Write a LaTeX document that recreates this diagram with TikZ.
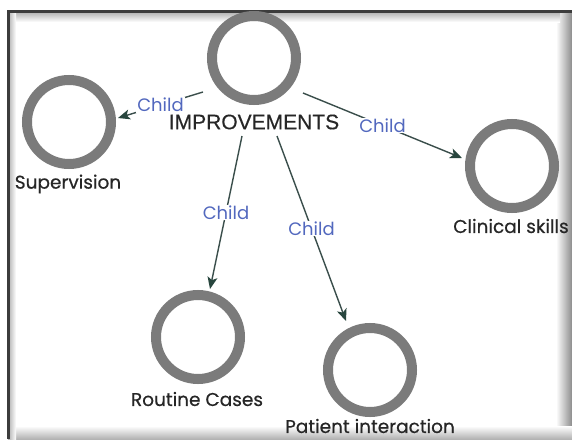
\documentclass[tikz,border=0pt]{standalone}
\usepackage{fontspec}
\setmainfont{Poppins}
\newfontfamily\labf{Poppins}[FakeBold=0.5]
\newfontfamily\arialf{Liberation Sans}[FakeBold=0.4]
\usetikzlibrary{arrows.meta}
\definecolor{ringgray}{RGB}{123,123,123}
\definecolor{edgecol}{RGB}{58,78,75}
\definecolor{tipcol}{RGB}{40,70,62}
\definecolor{childblue}{RGB}{82,104,190}
\definecolor{framecol}{RGB}{60,60,60}
\tikzset{
  ring/.style={circle,draw=ringgray,line width=10pt,minimum size=84pt,inner sep=0pt},
  nlabel/.style={font=\labf\fontsize{18.5}{18}\selectfont,text=black!85,inner sep=1pt},
  edge/.style={draw=edgecol,line width=1.4pt},
  arr/.style={edge,-{Stealth[length=12pt,width=10pt,inset=3pt,color=tipcol]}},
  childlbl/.style={font=\fontsize{18}{18}\selectfont,text=childblue,fill=white,inner sep=1pt}
}
\begin{document}
\begin{tikzpicture}[x=1pt,y=-1pt]
\useasboundingbox (0,0) rectangle (572,439);
\fill[white] (0,0) rectangle (572,439);
% frame with shadow
\shade[left color=white,right color=gray!90] (556,12) rectangle (572,439);
\shade[top color=white,bottom color=gray!60] (8,426) rectangle (572,439);
\shade[top color=gray!55,bottom color=white] (8,13) rectangle (560,22);
\shade[left color=gray!55,right color=white] (9,12) rectangle (16,439);
\draw[framecol,line width=3pt] (8,439) -- (8,11.5) -- (572,11.5);
% nodes
\node[ring] (top) at (254,58) {};
\node[ring] (sup) at (69,122) {};
\node[ring] (cli) at (512,166) {};
\node[ring] (rou) at (198,337) {};
\node[ring] (pat) at (370,370) {};
\node[font=\arialf\fontsize{21}{20}\selectfont,inner sep=0pt,text=black!85] (imp) at (254,122) {IMPROVEMENTS};
\node[nlabel] (supl) at (68,184) {Supervision};
\node[nlabel] (clil) at (511,226) {Clinical skills};
\node[nlabel] (roul) at (197,399) {Routine Cases};
\node[nlabel] (patl) at (370,426) {Patient interaction};
% edge endpoints
\coordinate (s1) at (203,92);
\coordinate (e1) at (118,118);
\coordinate (s2) at (303,93);
\coordinate (e2) at (462,158);
\coordinate (s3) at (242,136);
\coordinate (e3) at (210,289);
\coordinate (s4) at (277,136);
\coordinate (e4) at (346,321);
% edges
\draw[arr] (s1) -- (e1) node[childlbl,pos=0.5] {Child};
\draw[arr] (s2) -- (e2) node[childlbl,pos=0.5] {Child};
\draw[arr] (s3) -- (e3) node[childlbl,pos=0.5] {Child};
\draw[arr] (s4) -- (e4) node[childlbl,pos=0.5] {Child};
\end{tikzpicture}
\end{document}
